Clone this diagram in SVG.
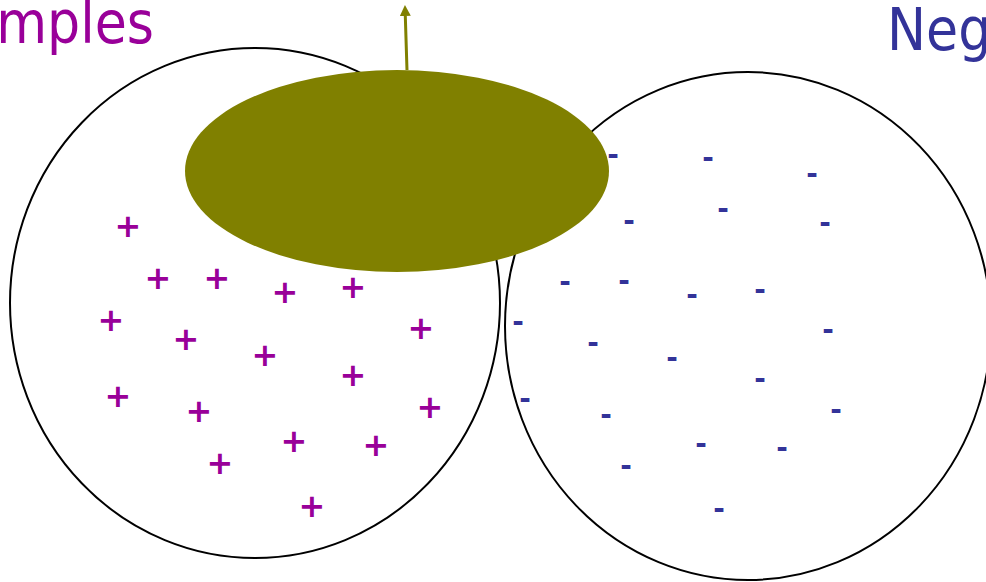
<svg xmlns="http://www.w3.org/2000/svg" width="986" height="582" viewBox="0 0 986 582">
<defs>
<style>
.title{font-family:"DejaVu Sans Condensed","DejaVu Sans",sans-serif;font-stretch:condensed;font-size:58px}
.pos{font-family:"DejaVu Sans",sans-serif;font-weight:bold;font-size:32px;fill:#990099;text-anchor:middle}
.neg{font-family:"DejaVu Sans",sans-serif;font-weight:bold;font-size:28px;fill:#333399;text-anchor:middle}
.set{fill:none;stroke:#000;stroke-width:2}
</style>
<marker id="ah" markerWidth="11" markerHeight="11" refX="0" refY="5.5" orient="auto" markerUnits="userSpaceOnUse" viewBox="0 0 11 11">
<path d="M0,0 L11,5.5 L0,11 Z" fill="#808000"/>
</marker>
</defs>
<rect width="986" height="582" fill="#fff"/>
<text class="title" x="154" y="43" fill="#990099" text-anchor="end">Positive Examples</text>
<text class="title" x="887" y="50" fill="#333399">Negative Examples</text>
<g id="positive-set"><ellipse class="set" cx="255" cy="303" rx="245" ry="255"/></g>
<g id="negative-set"><ellipse class="set" cx="748" cy="326" rx="243" ry="254"/></g>
<g id="plus-points">
<text class="pos" x="128" y="237">+</text>
<text class="pos" x="158" y="289">+</text>
<text class="pos" x="217" y="289">+</text>
<text class="pos" x="285" y="303">+</text>
<text class="pos" x="353" y="298">+</text>
<text class="pos" x="111" y="331">+</text>
<text class="pos" x="186" y="350">+</text>
<text class="pos" x="265" y="366">+</text>
<text class="pos" x="421" y="339">+</text>
<text class="pos" x="353" y="386">+</text>
<text class="pos" x="118" y="407">+</text>
<text class="pos" x="199" y="422">+</text>
<text class="pos" x="430" y="418">+</text>
<text class="pos" x="294" y="452">+</text>
<text class="pos" x="376" y="456">+</text>
<text class="pos" x="220" y="474">+</text>
<text class="pos" x="312" y="517">+</text>
</g>
<g id="minus-points">
<text class="neg" x="613" y="164">-</text>
<text class="neg" x="708" y="167">-</text>
<text class="neg" x="812" y="183">-</text>
<text class="neg" x="723" y="218">-</text>
<text class="neg" x="629" y="230">-</text>
<text class="neg" x="825" y="232">-</text>
<text class="neg" x="565" y="291">-</text>
<text class="neg" x="624" y="290">-</text>
<text class="neg" x="692" y="304">-</text>
<text class="neg" x="760" y="299">-</text>
<text class="neg" x="518" y="331">-</text>
<text class="neg" x="828" y="339">-</text>
<text class="neg" x="593" y="352">-</text>
<text class="neg" x="672" y="367">-</text>
<text class="neg" x="760" y="388">-</text>
<text class="neg" x="525" y="408">-</text>
<text class="neg" x="606" y="424">-</text>
<text class="neg" x="836" y="419">-</text>
<text class="neg" x="701" y="453">-</text>
<text class="neg" x="782" y="457">-</text>
<text class="neg" x="626" y="475">-</text>
<text class="neg" x="719" y="518">-</text>
</g>
<g id="hypothesis"><ellipse cx="397" cy="171" rx="212" ry="101" fill="#808000"/></g>
<g id="connectors">
<line x1="407" y1="70" x2="405.3" y2="16" stroke="#808000" stroke-width="3" marker-end="url(#ah)"/>
</g>
</svg>
